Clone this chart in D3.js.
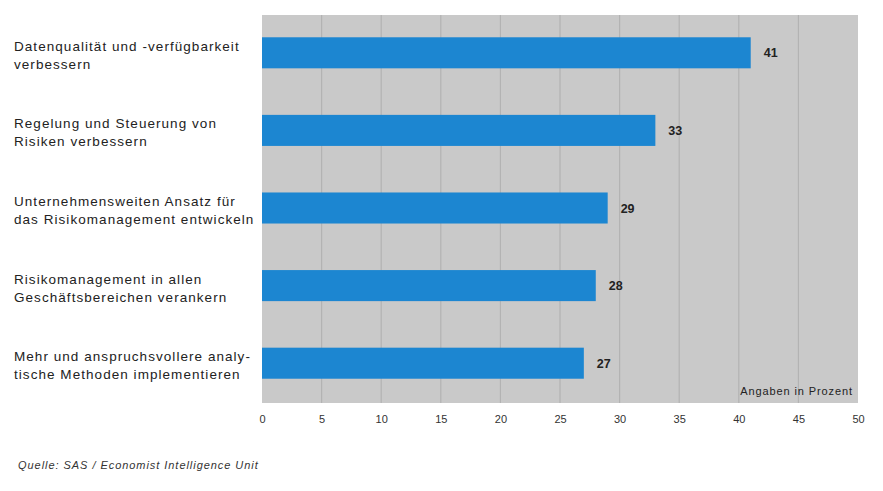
<!DOCTYPE html>
<html><head><meta charset="utf-8">
<script src="https://cdn.jsdelivr.net/npm/d3@7"></script>
<style>body{margin:0;background:#fff}svg{display:block}</style>
</head><body>
<svg id="c" width="883" height="491"></svg>
<script>
const categories = [
  ["Datenqualität und -verfügbarkeit", "verbessern"],
  ["Regelung und Steuerung von", "Risiken verbessern"],
  ["Unternehmensweiten Ansatz für", "das Risikomanagement entwickeln"],
  ["Risikomanagement in allen", "Geschäftsbereichen verankern"],
  ["Mehr und anspruchsvollere analy-", "tische Methoden implementieren"]
];
const values = [41, 33, 29, 28, 27];
const ticks = [0, 5, 10, 15, 20, 25, 30, 35, 40, 45, 50];
const unitLabel = "Angaben in Prozent";
const sourceLabel = "Quelle: SAS / Economist Intelligence Unit";

const svg = d3.select("#c");
const font = "Liberation Sans, Arial, sans-serif";
const L = 262, R = 858, T = 15, B = 403;
const x = d3.scaleLinear().domain([0, 50]).range([L, R]);
const y = d3.scaleBand().domain(d3.range(values.length)).range([14, 402]).paddingInner(0.6).paddingOuter(0.3);

svg.append("rect").attr("x", L).attr("y", T).attr("width", R - L).attr("height", B - T).attr("fill", "#c9c9c9");

svg.append("g").selectAll("line").data(ticks.slice(1, -1)).join("line")
  .attr("x1", d => x(d)).attr("x2", d => x(d)).attr("y1", T).attr("y2", B)
  .attr("stroke", "#b3b3b3").attr("stroke-width", 1.2);

svg.append("g").selectAll("rect").data(values).join("rect")
  .attr("x", x(0)).attr("y", (d, i) => y(i)).attr("width", d => x(d) - x(0)).attr("height", y.bandwidth())
  .attr("fill", "#1c86d1");

svg.append("g").selectAll("text").data(values).join("text")
  .attr("x", d => x(d) + 13).attr("y", (d, i) => y(i) + y.bandwidth() / 2 + 4.5)
  .attr("font-family", font).attr("font-size", 12.5).attr("font-weight", "bold").attr("fill", "#222")
  .text(d => d);

const cat = svg.append("g").selectAll("text").data(categories).join("text")
  .attr("x", 14).attr("y", (d, i) => y(i) + 13.5)
  .attr("font-family", font).attr("font-size", 13.5).attr("letter-spacing", 1.05).attr("fill", "#222");
cat.selectAll("tspan").data(d => d).join("tspan")
  .attr("x", 14).attr("dy", (d, j) => j === 0 ? 0 : 18).text(d => d);

const axis = d3.axisBottom(x).tickValues(ticks).tickSize(0).tickPadding(12);
const ga = svg.append("g").attr("transform", `translate(0,${B})`).call(axis);
ga.select(".domain").remove();
ga.selectAll("text").attr("font-family", font).attr("font-size", 11).attr("fill", "#333");

svg.append("text").attr("x", R - 5).attr("y", 395).attr("text-anchor", "end")
  .attr("font-family", font).attr("font-size", 11).attr("letter-spacing", 0.9).attr("fill", "#222").text(unitLabel);

svg.append("text").attr("x", 18).attr("y", 469)
  .attr("font-family", font).attr("font-size", 11).attr("letter-spacing", 0.95).attr("font-style", "italic").attr("fill", "#333").text(sourceLabel);
</script>
</body></html>
